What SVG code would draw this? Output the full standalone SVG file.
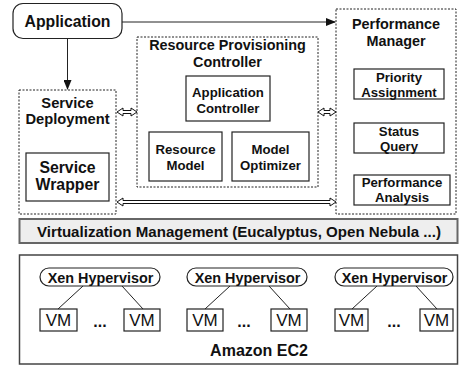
<svg xmlns="http://www.w3.org/2000/svg" width="461" height="367" viewBox="0 0 461 367">
<style>
text{font-family:"Liberation Sans",Arial,sans-serif;font-weight:bold;fill:#111;text-anchor:middle}
.dash{fill:#fff;stroke:#222;stroke-width:1;stroke-dasharray:2,1.5}
.box{fill:#fff;stroke:#222;stroke-width:1.2}
.t16{font-size:15.8px}
.t15{font-size:14.7px}
.t14{font-size:14.4px}
.t13{font-size:13.2px}
.vm{font-size:17px;font-weight:normal}
.dots{font-size:16px}
.dbl{fill:#fff;stroke:#111;stroke-width:1}
.ln{stroke:#222;stroke-width:1;fill:none}
</style>
<defs>
<marker id="ah" markerWidth="10" markerHeight="8" refX="9" refY="4" orient="auto" markerUnits="userSpaceOnUse">
<path d="M0,0 L10,4 L0,8 Z" fill="#111"/>
</marker>
</defs>
<rect width="461" height="367" fill="#fff"/>

<g id="application">
<rect x="13" y="3.5" width="109" height="35" rx="10" class="box"/>
<text x="67.5" y="27" class="t16">Application</text>
</g>

<g id="service-deployment">
<rect x="19" y="90" width="97" height="124" class="dash"/>
<text x="67.5" y="107.5" class="t15">Service</text>
<text x="67.5" y="123.5" class="t15">Deployment</text>
</g>
<g id="service-wrapper">
<rect x="26" y="153" width="83" height="48" class="box"/>
<text x="67.5" y="173" class="t16">Service</text>
<text x="67.5" y="190" class="t16">Wrapper</text>
</g>

<g id="resource-provisioning-controller">
<rect x="137" y="37" width="181" height="150" class="dash"/>
<text x="227.5" y="50" class="t14">Resource Provisioning</text>
<text x="227.5" y="66.5" class="t14">Controller</text>
</g>
<g id="application-controller">
<rect x="186" y="76" width="84" height="45" class="box"/>
<text x="228" y="97" class="t13">Application</text>
<text x="228" y="113" class="t13">Controller</text>
</g>
<g id="resource-model">
<rect x="149" y="132" width="73" height="49" class="box"/>
<text x="185.5" y="154" class="t13">Resource</text>
<text x="185.5" y="169.5" class="t13">Model</text>
</g>
<g id="model-optimizer">
<rect x="232" y="132" width="77" height="49" class="box"/>
<text x="270.5" y="154" class="t13">Model</text>
<text x="270.5" y="169.5" class="t13">Optimizer</text>
</g>

<g id="performance-manager">
<rect x="336" y="9" width="120" height="205" class="dash"/>
<text x="396" y="29" class="t14">Performance</text>
<text x="396" y="46" class="t14">Manager</text>
</g>
<g id="priority-assignment">
<rect x="354" y="69" width="90" height="30" class="box"/>
<text x="399" y="82" class="t13">Priority</text>
<text x="399" y="97" class="t13">Assignment</text>
</g>
<g id="status-query">
<rect x="354" y="123" width="90" height="30" class="box"/>
<text x="399" y="136" class="t13">Status</text>
<text x="399" y="151" class="t13">Query</text>
</g>
<g id="performance-analysis">
<rect x="354" y="175" width="96" height="30" class="box"/>
<text x="402" y="187" class="t13">Performance</text>
<text x="402" y="202" class="t13">Analysis</text>
</g>

<g id="virtualization-management">
<rect x="19.5" y="219" width="438" height="24" fill="#eeeeee" stroke="#666" stroke-width="2"/>
<text x="239" y="237" class="t15" style="font-size:15.1px">Virtualization Management (Eucalyptus, Open Nebula ...)</text>
</g>

<g id="amazon-ec2">
<rect x="19.5" y="255" width="438" height="109" fill="#fff" stroke="#444" stroke-width="1.5"/>
<text x="259" y="356" class="t16" style="font-size:16px">Amazon EC2</text>
</g>

<g id="xen1">
<rect x="40" y="268" width="120" height="18" rx="9" class="box"/>
<text x="100.5" y="282.5" class="t14">Xen Hypervisor</text>
</g>
<g id="vm1a"><rect x="40" y="309" width="37" height="22" class="box"/><text x="58.5" y="326" class="vm">VM</text></g>
<g id="vm1b"><rect x="124" y="309" width="36" height="22" class="box"/><text x="142" y="326" class="vm">VM</text></g>
<text x="100" y="327" class="dots">...</text>

<g id="xen2">
<rect x="187" y="268" width="120" height="18" rx="9" class="box"/>
<text x="247.5" y="282.5" class="t14">Xen Hypervisor</text>
</g>
<g id="vm2a"><rect x="187" y="309" width="36" height="22" class="box"/><text x="205" y="326" class="vm">VM</text></g>
<g id="vm2b"><rect x="271" y="309" width="36" height="22" class="box"/><text x="289" y="326" class="vm">VM</text></g>
<text x="244" y="327" class="dots">...</text>

<g id="xen3">
<rect x="335" y="268" width="118" height="18" rx="9" class="box"/>
<text x="394.5" y="282.5" class="t14">Xen Hypervisor</text>
</g>
<g id="vm3a"><rect x="335" y="309" width="33" height="22" class="box"/><text x="351.5" y="326" class="vm">VM</text></g>
<g id="vm3b"><rect x="420" y="309" width="33" height="22" class="box"/><text x="436.5" y="326" class="vm">VM</text></g>
<text x="394" y="327" class="dots">...</text>

<g id="connectors">
<line x1="67.5" y1="38.5" x2="67.5" y2="89" class="ln" marker-end="url(#ah)"/>
<line x1="122" y1="22" x2="335" y2="22" class="ln" marker-end="url(#ah)"/>
<polygon class="dbl" points="117,112 123,108 123,110.5 131,110.5 131,108 137,112 131,116 131,113.5 123,113.5 123,116"/>
<polygon class="dbl" points="318,112 324,108 324,110.5 330,110.5 330,108 336,112 330,116 330,113.5 324,113.5 324,116"/>
<polygon class="dbl" points="117,202 123,198 123,200.5 330,200.5 330,198 336,202 330,206 330,203.5 123,203.5 123,206"/>
<line x1="83" y1="286" x2="58" y2="309" class="ln"/>
<line x1="122" y1="286" x2="143" y2="309" class="ln"/>
<line x1="230" y1="286" x2="205" y2="309" class="ln"/>
<line x1="269" y1="286" x2="290" y2="309" class="ln"/>
<line x1="377" y1="286" x2="352" y2="309" class="ln"/>
<line x1="416" y1="286" x2="437" y2="309" class="ln"/>
</g>
</svg>
